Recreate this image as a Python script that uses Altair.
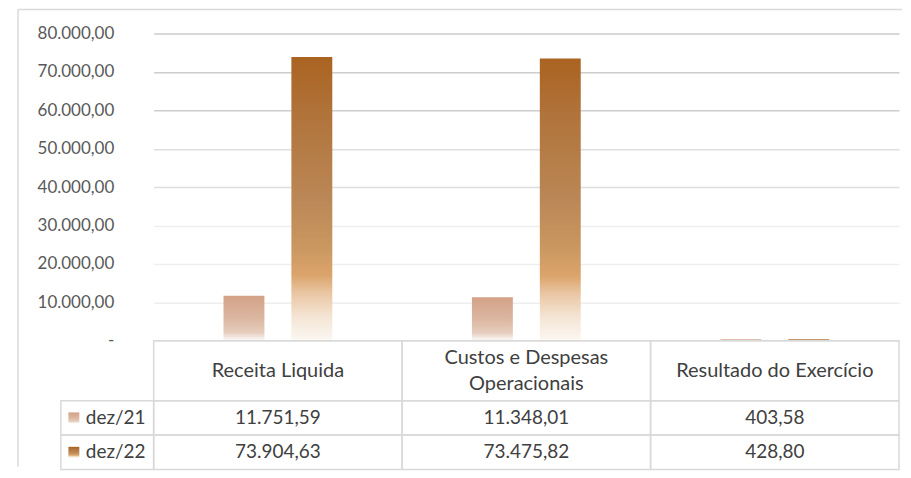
import altair as alt
import pandas as pd

cats = ["Receita Liquida", "Custos e Despesas Operacionais", "Resultado do Exercício"]
header_lines = ["Receita Liquida", "Custos e Despesas\nOperacionais", "Resultado do Exercício"]
header_nlines = [1, 2, 1]
series = ["dez/21", "dez/22"]
v21 = [11751.59, 11348.01, 403.58]
v22 = [73904.63, 73475.82, 428.80]
y_ticks = [0, 10000, 20000, 30000, 40000, 50000, 60000, 70000, 80000]


def br(v):
    s = f"{v:,.2f}"
    return s.replace(",", "#").replace(".", ",").replace("#", ".")


rows = []
for c, a, b in zip(cats, v21, v22):
    rows.append({"cat": c, "series": "dez/21", "value": a, "label": br(a)})
    rows.append({"cat": c, "series": "dez/22", "value": b, "label": br(b)})
df = pd.DataFrame(rows)
hdr = pd.DataFrame({"cat": cats, "head": header_lines, "n": header_nlines})
ser = pd.DataFrame({"series": series})

grad21 = alt.LinearGradient(
    gradient="linear", x1=0, y1=0, x2=0, y2=1,
    stops=[
        alt.GradientStop(offset=0, color="#d3a287"),
        alt.GradientStop(offset=0.5, color="#dbb6a0"),
        alt.GradientStop(offset=0.82, color="#e6cdbe"),
        alt.GradientStop(offset=0.92, color="#f3e8e1"),
        alt.GradientStop(offset=1, color="#fdfbfa"),
    ],
)
grad22 = alt.LinearGradient(
    gradient="linear", x1=0, y1=0, x2=0, y2=1,
    stops=[
        alt.GradientStop(offset=0, color="#aa6321"),
        alt.GradientStop(offset=0.2, color="#b0733a"),
        alt.GradientStop(offset=0.5, color="#bb8756"),
        alt.GradientStop(offset=0.66, color="#c99660"),
        alt.GradientStop(offset=0.77, color="#dba46b"),
        alt.GradientStop(offset=0.83, color="#e9c5a1"),
        alt.GradientStop(offset=0.91, color="#f4e3d2"),
        alt.GradientStop(offset=1, color="#fcf8f3"),
    ],
)

W = 747
LINE = "#d9d9d9"
TXT = "#404040"

xscale = alt.Scale(domain=cats, paddingInner=0, paddingOuter=0)

grid_color = {
    "condition": [
        {"test": "datum.value >= 60000", "value": "#cdcdcd"},
        {"test": "datum.value >= 40000", "value": "#dedede"},
    ],
    "value": "#eeeeee",
}

base = alt.Chart(df).encode(
    x=alt.X("cat:N", scale=xscale, axis=None, sort=cats),
    xOffset=alt.XOffset("series:N", scale=alt.Scale(domain=series, paddingInner=0.34, paddingOuter=1)),
    y=alt.Y(
        "value:Q",
        scale=alt.Scale(domain=[0, 80000], nice=False),
        axis=alt.Axis(
            values=y_ticks, title=None, ticks=False, domain=False,
            labelPadding=40, labelFontSize=17, labelColor="#595959",
            labelExpr="datum.value == 0 ? '-' : replace(replace(replace(format(datum.value, ',.2f'), ',', '#'), '.', ','), '#', '.')",
            gridColor=grid_color, gridWidth=1.5,
        ),
    ),
)
bar21 = base.transform_filter(alt.datum.series == "dez/21").mark_bar(color=grad21, width=41)
bar22 = base.transform_filter(alt.datum.series == "dez/22").mark_bar(color=grad22, width=41)

one = pd.DataFrame({"k": [0]})
top_rule = alt.Chart(one).mark_rule(color=LINE, strokeWidth=1.5).encode(
    x=alt.value(-136), x2=alt.value(750), y=alt.value(-24)
)
left_rule = alt.Chart(one).mark_rule(color=LINE, strokeWidth=1.5).encode(
    x=alt.value(-136), y=alt.value(-24), y2=alt.value(434)
)

bars = alt.layer(top_rule, left_rule, bar21, bar22).properties(width=W, height=308)

# header row
hx = alt.X("cat:N", scale=xscale, axis=None, sort=cats)
hcell = alt.Chart(hdr).mark_rect(fillOpacity=0, stroke=LINE, strokeWidth=1.5).encode(
    x=hx, y=alt.value(0), y2=alt.value(60)
)
htext1 = alt.Chart(hdr).transform_filter(alt.datum.n == 1).mark_text(
    fontSize=20, color=TXT, baseline="middle"
).encode(x=hx, y=alt.value(30), text="head:N")
htext2 = alt.Chart(hdr).transform_filter(alt.datum.n == 2).mark_text(
    fontSize=20, color=TXT, lineBreak="\n", baseline="middle", lineHeight=26
).encode(x=hx, y=alt.value(17), text="head:N")
header = alt.layer(hcell, htext1, htext2).properties(width=W, height=60)

# body rows
by = alt.Y("series:N", scale=alt.Scale(domain=series, paddingInner=0, paddingOuter=0), axis=None)
bcell = alt.Chart(df).mark_rect(fillOpacity=0, stroke=LINE, strokeWidth=1.5).encode(x=hx, y=by)
btext = alt.Chart(df).mark_text(fontSize=19, color=TXT, baseline="middle").encode(x=hx, y=by, text="label:N")
lcell = alt.Chart(ser).mark_rect(fillOpacity=0, stroke=LINE, strokeWidth=1.5).encode(
    x=alt.value(-93), x2=alt.value(0), y=by
)
sw21 = alt.Chart(ser).transform_filter(alt.datum.series == "dez/21").mark_square(size=120, color=grad21, opacity=1).encode(
    x=alt.value(-80), y=by
)
sw22 = alt.Chart(ser).transform_filter(alt.datum.series == "dez/22").mark_square(size=120, color=grad22, opacity=1).encode(
    x=alt.value(-80), y=by
)
ltext = alt.Chart(ser).mark_text(fontSize=19, color=TXT, align="left", baseline="middle").encode(
    x=alt.value(-68), y=by, text="series:N"
)
body = alt.layer(bcell, btext, lcell, sw21, sw22, ltext).properties(width=W, height=69)

chart = (
    alt.vconcat(bars, header, body, spacing=0, bounds="flush")
    .properties(padding={"left": 9, "top": 0, "right": 0, "bottom": 0})
    .configure(font="Lato")
    .configure_view(strokeWidth=0)
)

chart.save("out.html", embed_options={"renderer": "svg", "actions": False})
